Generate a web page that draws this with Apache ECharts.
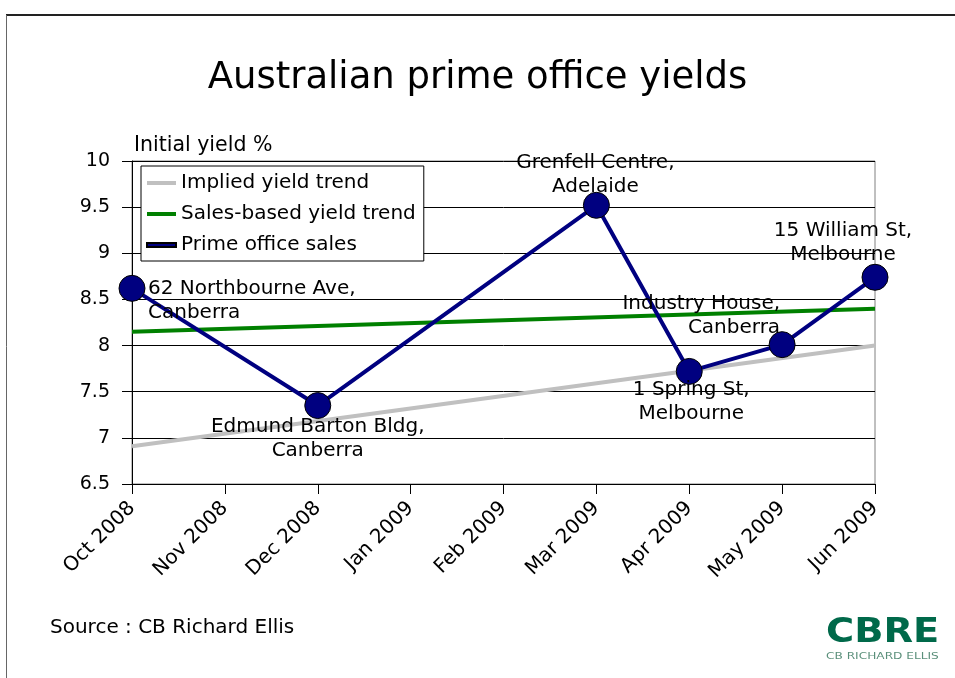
<!DOCTYPE html>
<html><head><meta charset="utf-8">
<script src="https://cdn.jsdelivr.net/npm/echarts@6/dist/echarts.min.js"></script>
<style>html,body{margin:0;padding:0;background:#fff}#c{width:955px;height:678px}</style>
</head><body><div id="c"></div>
<script>
const months = ['Oct 2008','Nov 2008','Dec 2008','Jan 2009','Feb 2009','Mar 2009','Apr 2009','May 2009','Jun 2009'];
const impliedTrend = [6.91, null, null, null, null, null, null, null, 8.0];
const salesTrend = [8.15, null, null, null, null, null, null, null, 8.40];
const primeSales = [8.62, null, 7.35, null, null, 9.52, 7.72, 8.01, 8.74];
const saleNames = ['62 Northbourne Ave,\nCanberra', '', 'Edmund Barton Bldg,\nCanberra', '', '', 'Grenfell Centre,\nAdelaide', '1 Spring St,\nMelbourne', 'Industry House,\nCanberra', '15 William St,\nMelbourne'];
const yTicks = {min: 6.5, max: 10, step: 0.5};

const FONT = 'DejaVu Sans';
// label placement styles (index-aligned with months)
const labelPlace = [
  {align:'left', offset:[16,12]}, null,
  {align:'center', offset:[0,33]}, null, null,
  {align:'center', offset:[-1,-31]},
  {align:'center', offset:[2,30]},
  {align:'right', offset:[-2,-29]},
  {align:'center', offset:[-32,-34]}
];
const primeData = primeSales.map((v,i)=>{
  const p = labelPlace[i];
  if (v == null) return null;
  return {value:v, label:{show:true, formatter:saleNames[i], position:'inside', align:p.align, verticalAlign:'middle', offset:p.offset, color:'#000', fontFamily:FONT, fontSize:20, lineHeight:24}};
});

const chart = echarts.init(document.getElementById('c'), null, {renderer:'canvas'});
chart.setOption({
  animation:false,
  backgroundColor:'#fff',
  title:{text:'Australian prime office yields', left:'center', top:55, textStyle:{fontFamily:FONT, fontSize:37, fontWeight:'normal', color:'#000'}},
  grid:{left:132, right:80, top:161, bottom:194, show:true, borderColor:'#808080', borderWidth:1, backgroundColor:'transparent'},
  legend:{orient:'vertical', left:141, top:166, backgroundColor:'#fff', borderColor:'#000', borderWidth:1, padding:[7,8,6,5], itemGap:11, itemWidth:29, itemHeight:4, icon:'rect',
    textStyle:{fontFamily:FONT, fontSize:20, color:'#000'},
    data:['Implied yield trend','Sales-based yield trend','Prime office sales']},
  xAxis:{type:'category', data:months, boundaryGap:false,
    axisLine:{lineStyle:{color:'#000', width:1}}, axisTick:{show:true, length:10, alignWithLabel:true, lineStyle:{color:'#000'}},
    axisLabel:{rotate:45, margin:21, color:'#000', fontFamily:FONT, fontSize:20, interval:0}, splitLine:{show:false}},
  yAxis:{type:'value', min:yTicks.min, max:yTicks.max, interval:yTicks.step,
    name:'Initial yield %', nameLocation:'end', nameGap:5, nameTextStyle:{fontFamily:FONT, fontSize:20.5, color:'#000', align:'left', padding:[0,0,0,2]},
    axisLine:{show:true, lineStyle:{color:'#000'}}, axisTick:{show:true, length:10, lineStyle:{color:'#000'}},
    axisLabel:{color:'#000', fontFamily:FONT, fontSize:19, margin:22},
    splitLine:{show:true, lineStyle:{color:'#000', width:1}}},
  series:[
    {name:'Implied yield trend', type:'line', data:impliedTrend, connectNulls:true, showSymbol:false, symbol:'none', lineStyle:{color:'#C0C0C0', width:4}, itemStyle:{color:'#C0C0C0'}, z:2},
    {name:'Sales-based yield trend', type:'line', data:salesTrend, connectNulls:true, showSymbol:false, symbol:'none', lineStyle:{color:'#008000', width:4}, itemStyle:{color:'#008000'}, z:3},
    {name:'Prime office sales', type:'line', data:primeData, connectNulls:true, symbol:'circle', symbolSize:26, lineStyle:{color:'#000080', width:4}, itemStyle:{color:'#000080', borderColor:'#000', borderWidth:1}, z:4}
  ],
  graphic:[
    {type:'line', shape:{x1:6, y1:15, x2:955, y2:15}, style:{stroke:'#222', lineWidth:2}},
    {type:'line', shape:{x1:6.5, y1:15, x2:6.5, y2:678}, style:{stroke:'#666', lineWidth:1}},
    {type:'text', left:50, top:618, style:{text:'Source : CB Richard Ellis', fontFamily:FONT, fontSize:20, fill:'#000'}},
    {type:'text', x:826, y:616, scaleX:1.13, style:{text:'CBRE', fontFamily:FONT, fontSize:34, fontWeight:'bold', fill:'#00694A'}},
    {type:'text', x:826, y:652, scaleX:1.35, style:{text:'CB RICHARD ELLIS', fontFamily:FONT, fontSize:9, fill:'#5A8F7A'}}
  ]
});
</script></body></html>
